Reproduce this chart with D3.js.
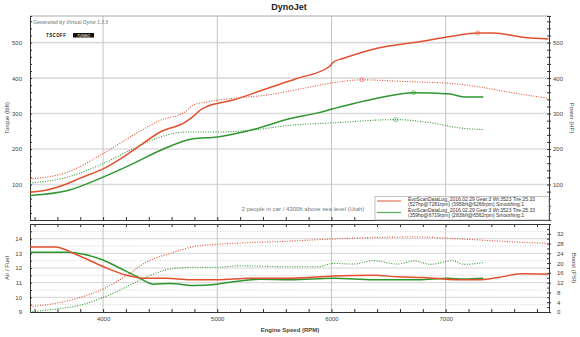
<!DOCTYPE html>
<html><head><meta charset="utf-8">
<script src="https://cdn.jsdelivr.net/npm/d3@7"></script>
<style>
html,body{margin:0;padding:0;background:#fff;}
svg{display:block;font-family:"Liberation Sans",Arial,sans-serif;}
</style></head>
<body><svg id="c" width="580" height="337"></svg>
<script>
// ---- data ----
const title = "DynoJet";
const xTicks = [4000, 5000, 6000, 7000];
const topTicks = [100, 200, 300, 400, 500];
const afrTicks = [9, 10, 11, 12, 13, 14];
const boostTicks = [0, 4, 8, 12, 16, 20, 24, 28, 32];
const legendLabels = [
  ["EvoScanDataLog_2016.02.29 Gear:3 Wt:3523 Tire:25.33", "(527hp@7281rpm) (395lbft@6266rpm) Smoothing:1"],
  ["EvoScanDataLog_2016.02.29 Gear:3 Wt:3523 Tire:25.33", "(359hp@6719rpm) (283lbft@6562rpm) Smoothing:1"]
];
const note = "2 people in car / 4300ft above sea level (Utah)";

// run 1 (red)
const redHpRpm  = [3360,3500,3650,3800,4000,4263,4500,4720,4800,4851,4910,5140,5430,5690,5980,6020,6100,6400,6780,7040,7281,7420,7680,7900];
const redHp     = [78,84,98,118,144,196,248,276,295,310,320,338,370,398,432,446,455,484,503,517,527,527,515,510];
const redTqRpm  = [3360,3690,4000,4263,4500,4720,4790,4910,5140,5430,5690,5980,6266,6667,7040,7280,7540,7900];
const redTq     = [116,135,187,239,281,305,324,333,343,352,367,385,395,390,385,376,361,343];
const redAfrRpm = [3360,3580,3770,4000,4210,4350,4560,4760,5000,5290,5640,6020,6370,6580,6810,7100,7280,7460,7660,7900];
const redAfr    = [13.43,13.43,12.9,12.1,11.5,11.3,11.3,11.2,11.2,11.3,11.3,11.45,11.5,11.4,11.35,11.2,11.2,11.35,11.6,11.57];
const redBstRpm = [3360,3590,3825,4000,4210,4385,4590,4790,5000,5290,5640,6020,6370,6760,7040,7280,7540,7900];
const redBoost  = [2.2,3.6,6.3,9.4,15.1,20.6,24,26.7,27.7,28.4,29,29.9,30.5,30.7,30.1,29.5,28.8,28.1];

// run 2 (green)
const grnHpRpm  = [3360,3690,4000,4263,4500,4790,5000,5290,5640,5880,6020,6400,6719,7040,7160,7330];
const grnHp     = [69,83,121,159,196,229,234,253,286,302,314,343,359,355,347,347];
const grnTqRpm  = [3360,3690,4000,4263,4500,4730,5000,5290,5640,6020,6562,6870,7160,7330];
const grnTq     = [104,121,159,201,234,248,248,253,267,274,283,274,258,255];
const grnAfrRpm = [3360,3690,3830,4000,4150,4300,4440,4590,4790,5000,5140,5380,5640,6020,6370,6760,7020,7160,7330];
const grnAfr    = [13.07,13.07,12.93,12.55,11.98,11.4,10.9,10.95,10.8,10.9,11.07,11.23,11.2,11.3,11.2,11.2,11.3,11.25,11.3];
const grnBstRpm = [3360,3590,3825,4000,4210,4385,4590,4790,5000,5200,5640,5880,6020,6190,6370,6580,6720,6870,7060,7160,7330];
const grnBoost  = [0.1,1.2,3.1,5.9,10.4,14.4,17.6,18.3,18.3,18.9,18.5,18.5,19.9,19.6,21,19.6,20.9,19.5,21,19.5,20.2];

const peaks = [
  {rpm:7281, v:527, c:"red"}, {rpm:6266, v:395, c:"red"},
  {rpm:6719, v:359, c:"green"}, {rpm:6562, v:283, c:"green"}
];

// ---- layout ----
const RED = "#e2502f", GREEN = "#2f962f";
const L = 30, R = 549, T1 = 16, B1 = 220, T2 = 224, B2 = 312;
const svg = d3.select("#c");
const x = d3.scaleLinear().domain([3360, 7905]).range([L, R]);
const yTop = d3.scaleLinear().domain([0, 575]).range([B1, T1]);
const yAfr = d3.scaleLinear().domain([9, 15]).range([B2, T2]);
const yBst = d3.scaleLinear().domain([0, 36]).range([B2, T2]);
const col = c => c === "red" ? RED : GREEN;

// top panel grid
const gTop = svg.append("g");
gTop.selectAll(".hg").data(topTicks).join("line")
  .attr("x1", L).attr("x2", R).attr("y1", d => yTop(d)).attr("y2", d => yTop(d))
  .attr("stroke", "#dcdcdc").attr("stroke-width", 1.6);
gTop.selectAll(".vg").data(xTicks).join("line")
  .attr("x1", d => x(d)).attr("x2", d => x(d)).attr("y1", T1).attr("y2", B1)
  .attr("stroke", "#c4c4c4").attr("stroke-width", 1);
gTop.append("line").attr("x1", L).attr("x2", R).attr("y1", T1).attr("y2", T1).attr("stroke", "#aaa");

// bottom panel grid
const gBot = svg.append("g");
gBot.selectAll(".mn").data(d3.range(9.5, 15, 1)).join("line")
  .attr("x1", L).attr("x2", R).attr("y1", d => yAfr(d)).attr("y2", d => yAfr(d))
  .attr("stroke", "#d0d0d0").attr("stroke-dasharray", "1,1.5");
gBot.selectAll(".mj").data(d3.range(10, 15, 1)).join("line")
  .attr("x1", L).attr("x2", R).attr("y1", d => yAfr(d)).attr("y2", d => yAfr(d))
  .attr("stroke", "#d4d4d4").attr("stroke-width", 1);
gBot.selectAll(".vg").data(xTicks).join("line")
  .attr("x1", d => x(d)).attr("x2", d => x(d)).attr("y1", T2).attr("y2", B2)
  .attr("stroke", "#c4c4c4");

// axes
const fs = "6px";
function styleAxis(g) {
  g.selectAll("path.domain").attr("stroke", "#333");
  g.selectAll("line").attr("stroke", "#333");
  g.selectAll("text").attr("font-size", fs).attr("fill", "#444");
}
const minorX = d3.range(3400, 7901, 200);
svg.append("g").attr("transform", `translate(0,${B1})`)
  .call(d3.axisTop(x).tickValues(minorX).tickSize(3).tickFormat("")).call(styleAxis);
svg.append("g").attr("transform", `translate(0,${T2})`)
  .call(d3.axisBottom(x).tickValues(minorX).tickSize(3).tickFormat("")).call(styleAxis);
svg.append("g").attr("transform", `translate(0,${B2})`)
  .call(d3.axisTop(x).tickValues(minorX).tickSize(3).tickFormat("")).call(styleAxis);
svg.append("g").attr("transform", `translate(0,${B2})`)
  .call(d3.axisBottom(x).tickValues(xTicks).tickSize(0).tickPadding(5).tickFormat(d3.format("d"))).call(styleAxis)
  .select("path.domain").remove();

// left/right top
svg.append("g").attr("transform", `translate(${L},0)`)
  .call(d3.axisRight(yTop).tickValues(d3.range(20, 575, 20)).tickSize(2).tickFormat("")).call(styleAxis);
svg.append("g").attr("transform", `translate(${L},0)`)
  .call(d3.axisLeft(yTop).tickValues(topTicks).tickSize(0).tickPadding(8)).call(styleAxis)
  .select("path.domain").remove();
svg.append("g").attr("transform", `translate(${R},0)`)
  .call(d3.axisLeft(yTop).tickValues(d3.range(20, 575, 20)).tickSize(2).tickFormat("")).call(styleAxis);
svg.append("g").attr("transform", `translate(${R},0)`)
  .call(d3.axisRight(yTop).tickValues(topTicks).tickSize(0).tickPadding(4)).call(styleAxis)
  .select("path.domain").remove();
svg.append("g").attr("transform", `translate(${R},0)`)
  .call(d3.axisRight(yTop).tickValues(d3.range(20, 575, 20)).tickSize(2).tickFormat("")).call(styleAxis);

// left/right bottom
svg.append("g").attr("transform", `translate(${L},0)`)
  .call(d3.axisRight(yAfr).tickValues(d3.range(9.5, 15, 0.5)).tickSize(2).tickFormat("")).call(styleAxis);
svg.append("g").attr("transform", `translate(${L},0)`)
  .call(d3.axisLeft(yAfr).tickValues(afrTicks).tickSize(0).tickPadding(8).tickFormat(d3.format("d"))).call(styleAxis)
  .select("path.domain").remove();
svg.append("g").attr("transform", `translate(${R},0)`)
  .call(d3.axisLeft(yBst).tickValues(d3.range(2, 36, 2)).tickSize(2).tickFormat("")).call(styleAxis);
svg.append("g").attr("transform", `translate(${R},0)`)
  .call(d3.axisRight(yBst).tickValues(boostTicks).tickSize(2).tickPadding(6)).call(styleAxis);

// ---- lines ----
function drawLine(rpms, vals, yScale, color, dotted, width) {
  const line = d3.line().x((d, i) => x(rpms[i])).y(d => yScale(d)).curve(d3.curveMonotoneX);
  svg.append("path").datum(vals).attr("d", line).attr("fill", "none")
    .attr("stroke", color).attr("stroke-width", width)
    .attr("stroke-dasharray", dotted ? "1,1.5" : null);
}
drawLine(redTqRpm, redTq, yTop, RED, true, 1.1);
drawLine(grnTqRpm, grnTq, yTop, GREEN, true, 1.1);
drawLine(redHpRpm, redHp, yTop, RED, false, 1.5);
drawLine(grnHpRpm, grnHp, yTop, GREEN, false, 1.5);
drawLine(redBstRpm, redBoost, yBst, RED, true, 1.1);
drawLine(grnBstRpm, grnBoost, yBst, GREEN, true, 1.1);
drawLine(grnAfrRpm, grnAfr, yAfr, GREEN, false, 1.5);
drawLine(redAfrRpm, redAfr, yAfr, RED, false, 1.5);

svg.selectAll(".pk").data(peaks).join("circle")
  .attr("cx", d => x(d.rpm)).attr("cy", d => yTop(d.v)).attr("r", 2)
  .attr("fill", "none").attr("stroke", d => col(d.c)).attr("stroke-opacity", 0.7).attr("stroke-width", 0.8);

// ---- texts ----
svg.append("text").attr("x", 289).attr("y", 10).attr("text-anchor", "middle")
  .attr("font-size", "9px").attr("font-weight", "bold").attr("fill", "#222").text(title);
svg.append("text").attr("x", 33).attr("y", 24).attr("font-size", "5px").attr("font-style", "italic")
  .attr("font-weight", "bold").attr("fill", "#9a9a9a").text("Generated by Virtual Dyno 1.3.3");
svg.append("text").attr("x", 46).attr("y", 37).attr("font-size", "4.5px").attr("font-weight", "bold")
  .attr("fill", "#111").attr("letter-spacing", "0.4").text("TSCOFF");
svg.append("rect").attr("x", 73).attr("y", 33).attr("width", 21).attr("height", 4.5).attr("fill", "#111");
svg.append("text").attr("x", 83.5).attr("y", 36.6).attr("text-anchor", "middle").attr("font-size", "3.8px")
  .attr("font-style", "italic").attr("fill", "#fff").text("TUNED");

svg.append("text").attr("transform", "translate(9,118) rotate(-90)").attr("text-anchor", "middle")
  .attr("font-size", "6px").attr("fill", "#444").text("Torque (lbft)");
svg.append("text").attr("transform", "translate(570,118) rotate(90)").attr("text-anchor", "middle")
  .attr("font-size", "6px").attr("fill", "#444").text("Power (HP)");
svg.append("text").attr("transform", "translate(9,268) rotate(-90)").attr("text-anchor", "middle")
  .attr("font-size", "6px").attr("fill", "#444").text("Air / Fuel");
svg.append("text").attr("transform", "translate(572,268) rotate(90)").attr("text-anchor", "middle")
  .attr("font-size", "6px").attr("fill", "#444").text("Boost (PSI)");
svg.append("text").attr("x", 290).attr("y", 332).attr("text-anchor", "middle")
  .attr("font-size", "6px").attr("font-weight", "bold").attr("fill", "#444").text("Engine Speed (RPM)");
svg.append("text").attr("x", 303).attr("y", 211).attr("text-anchor", "middle")
  .attr("font-size", "6px").attr("fill", "#777").text(note);

// legend
const lg = svg.append("g");
lg.append("rect").attr("x", 375).attr("y", 196.5).attr("width", 174).attr("height", 23.5)
  .attr("fill", "#fff").attr("stroke", "#999").attr("stroke-width", 0.6);
[RED, GREEN].forEach((c, i) => {
  lg.append("line").attr("x1", 377).attr("x2", 401).attr("y1", 201 + i * 11.5).attr("y2", 201 + i * 11.5)
    .attr("stroke", c).attr("stroke-width", 1.2).attr("stroke-opacity", 0.8);
  legendLabels[i].forEach((t, j) => {
    lg.append("text").attr("x", 408).attr("y", 200.5 + i * 11.5 + j * 5.4)
      .attr("font-size", "5px").attr("fill", "#333").text(t);
  });
});
</script></body></html>
